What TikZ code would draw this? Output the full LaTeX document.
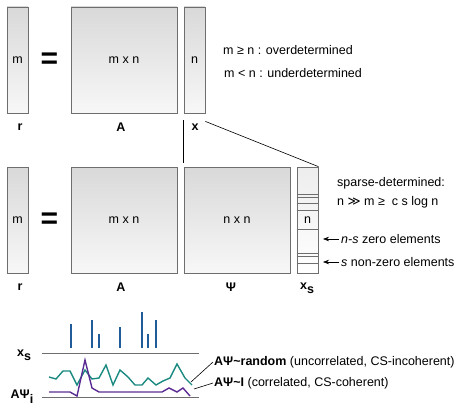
\documentclass[tikz,border=0pt]{standalone}
\usepackage{fontspec}
\setmainfont{Liberation Sans}
\newfontfamily\dejavu{DejaVu Sans}
\usetikzlibrary{arrows.meta}
\definecolor{bordc}{HTML}{6E6E6E}
\definecolor{barblue}{HTML}{1F5C99}
\definecolor{tealc}{HTML}{1A8A80}
\definecolor{purp}{HTML}{5B2C93}
\begin{document}
\begin{tikzpicture}[x=1pt,y=-1pt,
  mat/.style={draw=bordc, line width=0.8pt, top color=gray!30, bottom color=gray!6, inner sep=0, font=\fontsize{12.5}{14}\selectfont},
  colbox/.style={mat, minimum width=21pt, minimum height=106pt},
  sqbox/.style={mat, minimum width=106pt, minimum height=106pt},
  lbl/.style={font=\fontsize{12.5}{14}\selectfont\bfseries, inner sep=0},
  txt/.style={font=\fontsize{12.5}{14}\selectfont, anchor=west, inner sep=0},
  eqsign/.style={font=\fontsize{30}{30}\selectfont\bfseries, inner sep=0},
  conn/.style={draw=black, line width=0.6pt},
  axisline/.style={draw=bordc, line width=0.9pt},
  sepline/.style={draw=bordc, line width=0.7pt},
  ptr/.style={draw=black, line width=0.6pt, -{Stealth[length=6pt,width=4.5pt]}},
  barstyle/.style={draw=barblue, line width=2.6pt},
  curve/.style={line width=1.4pt, line join=miter}
]
\useasboundingbox (0,0) rectangle (469,412);
% top row
\node[colbox] (r1) at (17.5,60) {m};
\node[eqsign] (eq1) at (49.5,61) {=};
\node[sqbox] (A1) at (124,60) {m x n};
\node[colbox] (x1) at (194.5,60) {n};
\node[lbl] (lr1) at (20,127) {r};
\node[lbl] (lA1) at (121,127) {A};
\node[lbl] (lx1) at (195,127) {x};
\node[txt] (t1) at (223,50) {m ≥ n : overdetermined};
\node[txt] (t2) at (224,73) {m < n : underdetermined};
% middle row
\node[colbox] (r2) at (17.5,220) {m};
\node[eqsign] (eq2) at (49.5,221) {=};
\node[sqbox] (A2) at (124,220) {m x n};
\node[sqbox] (P2) at (237,220) {n x n};
\node[colbox, top color=gray!14, bottom color=white] (xs) at (307.5,220) {};
\foreach \yy in {194,197,203,210,229,253,256,263}
  \draw[sepline] (xs.west |- 0,\yy) -- (xs.east |- 0,\yy);
\node[font=\fontsize{12.5}{14}\selectfont, inner sep=0] (xn) at (307.5,220) {n};
\node[lbl] (lr2) at (20,287) {r};
\node[lbl] (lA2) at (121,287) {A};
\node[lbl] (lP2) at (231,287) {Ψ};
\node[lbl] (lxs) at (307,288) {x\raisebox{-4pt}{s}};
\draw[conn] ([yshift=-7pt]x1.south west) -- ([yshift=4pt]P2.north west);
\draw[conn] ([yshift=-8pt]x1.south east) -- (xs.north east);
\node[txt] (t3) at (337,183) {sparse-determined:};
\node[txt] (t4) at (337,202) {n {\dejavu ≫} m ≥ \ c s log n};
\node[txt] (z1) at (341,239) {\textit{n-s} zero elements};
\node[txt] (z2) at (341,262) {\textit{s} non-zero elements};
\coordinate (a1) at (323,239);
\coordinate (a2) at (323,262);
\draw[ptr] ([xshift=-2pt]z1.west) -- (a1);
\draw[ptr] ([xshift=-2pt]z2.west) -- (a2);
% bottom plot
\node[lbl] (bx) at (24,355) {x\raisebox{-4pt}{s}};
\node[lbl] (bA) at (22,397) {AΨ\raisebox{-5pt}{i}};
\coordinate (ax1) at (42,353);
\coordinate (ax2) at (199,353);
\coordinate (ay1) at (42,397);
\coordinate (ay2) at (199,397);
\draw[axisline] (ax1) -- (ax2);
\draw[axisline] (ay1) -- (ay2);
\foreach \xx/\tt in {71/324, 92/320, 99/334, 120/327, 142/312, 148/334, 156/320}
  \draw[barstyle] (\xx,348) -- (\xx,\tt);
\draw[curve, tealc] plot coordinates {(49,377) (56,379) (63,371) (70,371) (77,385) (85,370) (92,379) (99,378) (106,365) (113,385) (120,370) (128,377) (135,385) (142,385) (148,378) (156,385) (163,381) (170,378) (177,364) (185,378) (192,385)};
\draw[curve, purp] plot coordinates {(49,392) (70,392) (77,396) (85,360) (92,388) (99,392) (162,392) (169,388) (177,392) (183,388) (190,396)};
\node[txt] (ar) at (214,362) {\textbf{AΨ\textasciitilde random} (uncorrelated, CS-incoherent)};
\node[txt] (ai) at (214,383) {\textbf{AΨ\textasciitilde I} (correlated, CS-coherent)};
\coordinate (e1) at (191,382);
\coordinate (e2) at (194,389);
\draw[conn] (e1) -- ([xshift=-1pt]ar.west);
\draw[conn] (e2) -- ([xshift=-1pt]ai.west);
\end{tikzpicture}
\end{document}
